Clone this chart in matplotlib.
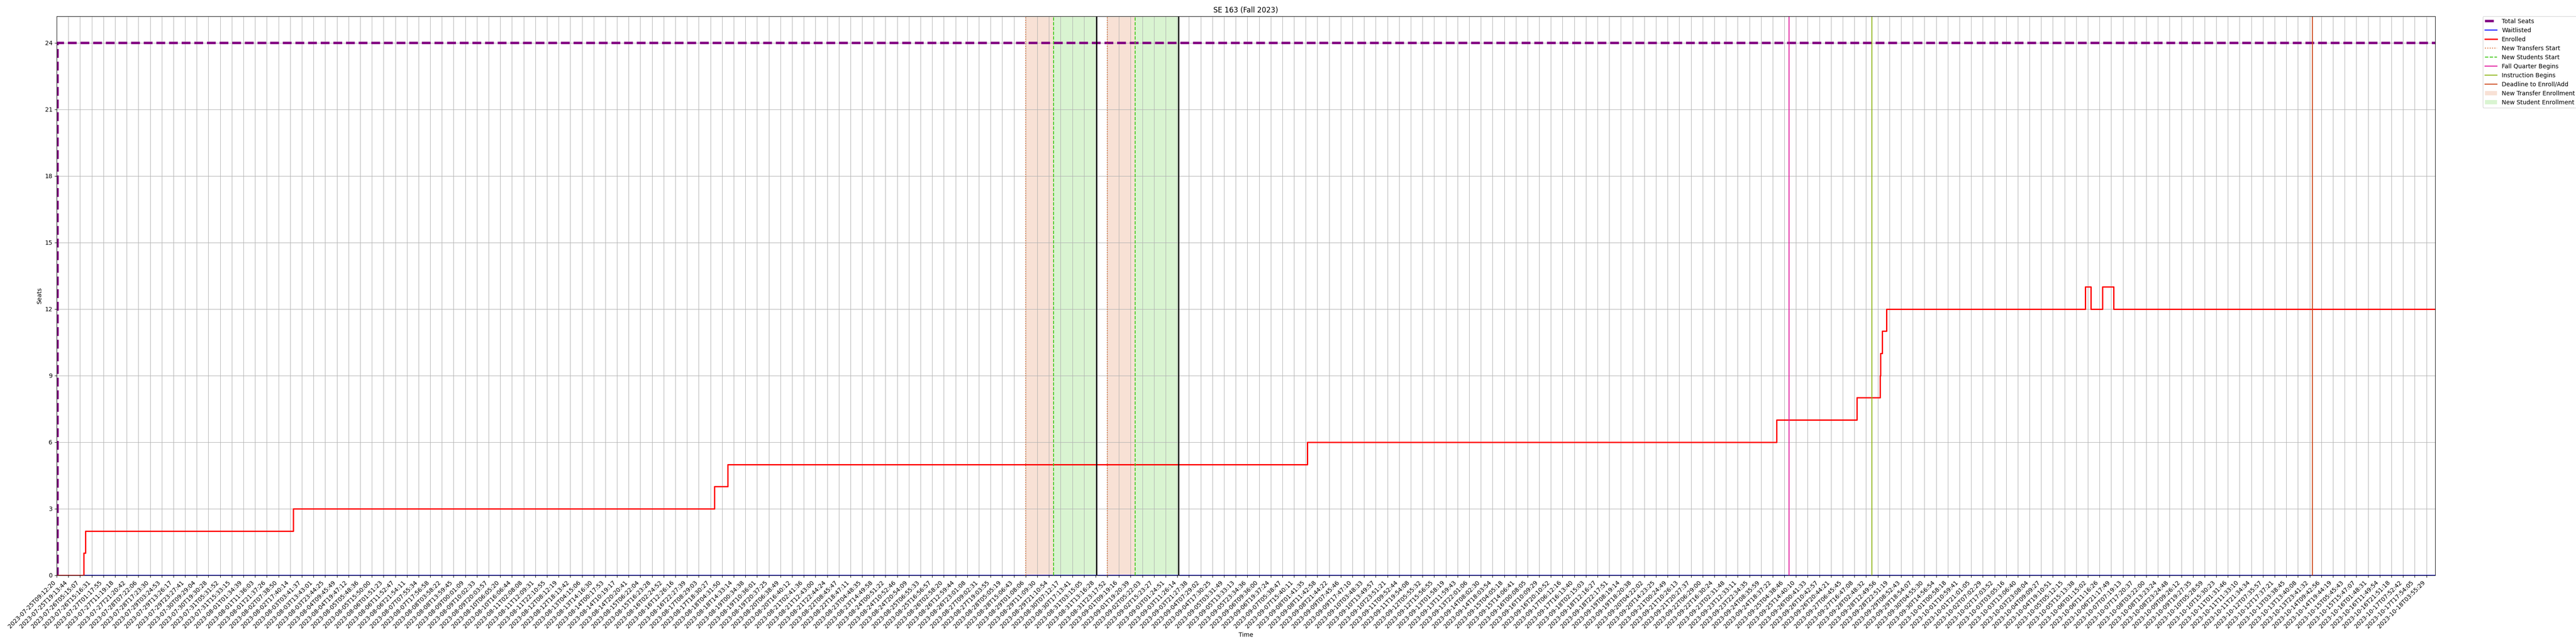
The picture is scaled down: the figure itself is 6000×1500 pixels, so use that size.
import pandas as pd
import matplotlib
matplotlib.use("Agg")
import matplotlib.pyplot as plt

# seat counts
total_times = ["2023-07-25T09:12:20", "2023-07-25T10:00:00", "2023-10-18T11:24:00"]
total_seats = [0, 24, 24]

wait_times = ["2023-07-25T09:12:20", "2023-10-18T11:24:00"]
waitlisted = [0, 0]

enrolled_times = [
    "2023-07-25T09:12:20", "2023-07-26T08:27:00", "2023-07-26T09:52:00",
    "2023-08-02T20:16:00", "2023-08-17T22:00:00", "2023-08-18T09:18:00",
    "2023-09-08T03:06:00", "2023-09-24T22:06:00", "2023-09-27T19:00:00",
    "2023-09-28T14:42:00", "2023-09-28T15:12:00", "2023-09-28T16:36:00",
    "2023-09-28T20:13:00", "2023-10-05T23:00:00", "2023-10-06T03:48:00",
    "2023-10-06T13:44:00", "2023-10-06T23:14:00", "2023-10-18T11:24:00",
]
enrolled = [0, 1, 2, 3, 4, 5, 6, 7, 8, 9, 10, 11, 12, 13, 12, 13, 12, 12]

# key dates
transfer_start = ["2023-08-29T01:08:00", "2023-08-31T23:18:00"]
student_start = ["2023-08-30T01:12:00", "2023-09-01T23:18:00"]
enrollment_end = ["2023-08-31T14:12:00", "2023-09-03T12:36:00"]
fall_begins = "2023-09-25T08:36:00"
instruction_begins = "2023-09-28T07:42:00"
add_deadline = "2023-10-14T02:00:00"

# x ticks
first_tick = "2023-07-25T09:12:20"
last_tick = "2023-10-18T03:55:29"
n_ticks = 204


def main():
    fig = plt.figure(figsize=(60, 15), dpi=100)
    ax = fig.add_axes([0.022, 0.1067, 0.9233, 0.8683])

    ax.plot(pd.to_datetime(total_times), total_seats, drawstyle="steps-post",
            color="purple", linestyle="--", linewidth=4, label="Total Seats")
    ax.plot(pd.to_datetime(wait_times), waitlisted, drawstyle="steps-post",
            color="blue", linewidth=1.5, label="Waitlisted")
    ax.plot(pd.to_datetime(enrolled_times), enrolled, drawstyle="steps-post",
            color="red", linewidth=2.2, label="Enrolled")

    orange = "#dc6a2e"
    green = "#41c819"

    for i in range(2):
        ts = pd.Timestamp(transfer_start[i])
        ss = pd.Timestamp(student_start[i])
        se = pd.Timestamp(enrollment_end[i])
        ax.axvline(ts, color=orange, linestyle=":", linewidth=1.5,
                   label="New Transfers Start" if i == 0 else None)
        ax.axvline(ss, color=green, linestyle="--", linewidth=1.5,
                   label="New Students Start" if i == 0 else None)
        ax.axvline(se, color="black", linewidth=2)

    ax.axvline(pd.Timestamp(fall_begins), color="#e0189c", linewidth=1.5,
               label="Fall Quarter Begins")
    ax.axvline(pd.Timestamp(instruction_begins), color="#8cb410", linewidth=1.5,
               label="Instruction Begins")
    ax.axvline(pd.Timestamp(add_deadline), color="#cc4416", linewidth=1.5,
               label="Deadline to Enroll/Add")

    for i in range(2):
        ax.axvspan(pd.Timestamp(transfer_start[i]), pd.Timestamp(student_start[i]),
                   color=orange, alpha=0.2, linewidth=0,
                   label="New Transfer Enrollment" if i == 0 else None)
        ax.axvspan(pd.Timestamp(student_start[i]), pd.Timestamp(enrollment_end[i]),
                   color=green, alpha=0.2, linewidth=0,
                   label="New Student Enrollment" if i == 0 else None)

    ticks = pd.date_range(first_tick, last_tick, periods=n_ticks).round("s")
    ax.set_xticks(ticks)
    ax.set_xticklabels([t.strftime("%Y-%m-%dT%H:%M:%S") for t in ticks],
                       rotation=45, ha="right")
    ax.set_xlim(pd.Timestamp(total_times[0]), pd.Timestamp(total_times[-1]))

    ax.set_yticks(range(0, 25, 3))
    ax.set_ylim(0, 25.2)

    ax.grid(True)
    ax.set_xlabel("Time")
    ax.set_ylabel("Seats")
    ax.set_title("SE 163 (Fall 2023)")
    ax.legend(loc="upper left", bbox_to_anchor=(1.02, 1), borderaxespad=0)

    fig.savefig("out.png", dpi=100)
    plt.close(fig)


if __name__ == "__main__":
    main()
